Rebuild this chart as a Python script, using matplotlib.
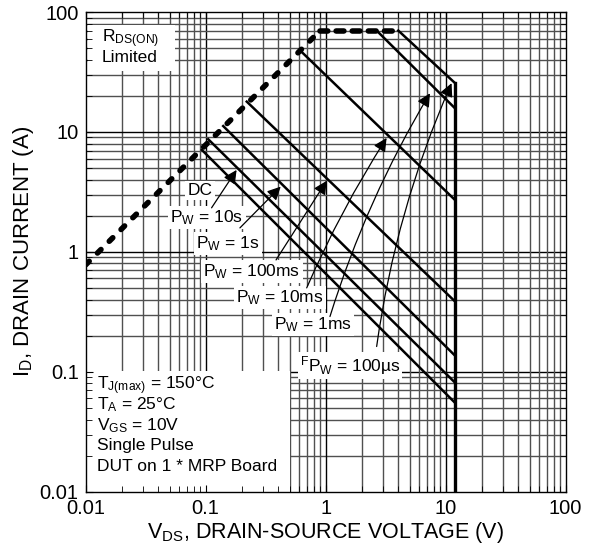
import matplotlib.pyplot as plt
from matplotlib.patches import Rectangle

plt.rcParams['font.family'] = ['Liberation Sans', 'DejaVu Sans']
plt.rcParams['mathtext.fontset'] = 'custom'
plt.rcParams['mathtext.rm'] = 'Liberation Sans'
plt.rcParams['mathtext.it'] = 'Liberation Sans:italic'
plt.rcParams['mathtext.default'] = 'regular'

# RDS(on) limit (dashed)
rds_v = [0.01, 0.9]
rds_i = [0.78, 70]
flat_v = [0.9, 4.0]
flat_i = [70, 70]

# pulse width lines: start on the limit, end at VDS max
pulse_names = ['DC', '10s', '1s', '100ms', '10ms', '1ms', '100\u00b5s']
v_start = [0.093, 0.105, 0.14, 0.22, 0.61, 2.66, 4.03]
i_start = [7.08, 8.7, 11.2, 17.9, 48, 70, 70]
i_end = [0.055, 0.081, 0.136, 0.385, 2.7, 15.7, 25.5]
vds_max = 12

# label centres and arrows (tail -> tip)
label_pos = [(0.0898, 3.24), (0.1025, 1.92), (0.1535, 1.17), (0.243, 0.681),
             (0.416, 0.414), (0.783, 0.246), (1.596, 0.112)]
arrow_tail = [None, (0.112, 2.33), (0.193, 1.585), (0.386, 0.857),
              (0.695, 0.501), (1.086, 0.289), (2.66, 0.1625)]
arrow_tip = [None, (0.181, 4.82), (0.422, 3.50), (1.019, 3.91),
             (3.22, 8.91), (7.40, 21.0), (11.2, 25.5)]
arrow_rad = [0, 0, 0, 0, -0.04, -0.06, -0.07]

fig = plt.figure(figsize=(5.97, 5.44), dpi=100)
ax = fig.add_axes([0.1435, 0.0961, 0.804, 0.8818])
ax.set_xscale('log')
ax.set_yscale('log')
ax.set_xlim(0.01, 100)
ax.set_ylim(0.01, 100)

# grid drawn by hand so white boxes can sit over it but under the ticks
for dec in [0.01, 0.1, 1, 10]:
    for k in range(1, 10):
        val = dec * k
        c = 'black' if k == 1 else '#505050'
        if val > 0.01:
            ax.axvline(val, color=c, lw=1.0, zorder=0.8)
            ax.axhline(val, color=c, lw=1.0, zorder=0.8)

# white boxes
ax.add_patch(Rectangle((0.005, 0.878), 0.181, 0.094, transform=ax.transAxes,
                       facecolor='white', edgecolor='none', zorder=1))
ax.add_patch(Rectangle((0.0, 0.0), 0.4256, 0.252, transform=ax.transAxes,
                       facecolor='white', edgecolor='none', zorder=1))

# RDS(on) limit
ax.plot(rds_v, rds_i, color='black', lw=4.0, linestyle=(0, (0.9, 2.1)),
        dash_capstyle='round', zorder=3)
ax.plot(flat_v, flat_i, color='black', lw=4.0, linestyle=(0, (1.4, 1.5)),
        dash_capstyle='round', zorder=3)

# SOA lines
for vs, i0, i1 in zip(v_start, i_start, i_end):
    ax.plot([vs, vds_max], [i0, i1], color='black', lw=1.8, zorder=3)
ax.plot([vds_max, vds_max], [i_end[-1], 0.01], color='black', lw=2.4, zorder=3)

# labels and arrows
for k, name in enumerate(pulse_names):
    if name == 'DC':
        txt = 'DC'
    elif name == '100\u00b5s':
        txt = '$^{F}$P$_{W}$ = ' + name
    else:
        txt = 'P$_{W}$ = ' + name
    ax.text(label_pos[k][0], label_pos[k][1], txt, fontsize=12.5,
            ha='center', va='center', zorder=1.2,
            bbox=dict(facecolor='white', edgecolor='none', pad=1.5))
    if arrow_tail[k] is not None:
        ax.annotate('', xy=arrow_tip[k], xytext=arrow_tail[k],
                    arrowprops=dict(arrowstyle='-|>', color='black', lw=0.9,
                                    mutation_scale=20, shrinkA=0, shrinkB=0,
                                    connectionstyle='arc3,rad=%s' % arrow_rad[k]),
                    zorder=4)

ax.text(0.033, 0.945, 'R$_{DS(ON)}$', transform=ax.transAxes, fontsize=12.5,
        va='center', zorder=2)
ax.text(0.033, 0.906, 'Limited', transform=ax.transAxes, fontsize=12.5,
        va='center', zorder=2)

notes = ['T$_{J(max)}$ = 150\u00b0C', 'T$_{A}$ = 25\u00b0C', 'V$_{GS}$ = 10V',
         'Single Pulse', 'DUT on 1 * MRP Board']
note_y = [0.222, 0.181, 0.137, 0.0973, 0.0535]
for t, yy in zip(notes, note_y):
    ax.text(0.023, yy, t, transform=ax.transAxes, fontsize=12.5,
            va='center', zorder=2)

ax.set_xticks([0.01, 0.1, 1, 10, 100])
ax.set_xticklabels(['0.01', '0.1', '1', '10', '100'])
ax.set_yticks([0.01, 0.1, 1, 10, 100])
ax.set_yticklabels(['0.01', '0.1', '1', '10', '100'])
ax.tick_params(which='both', direction='in', top=True, right=True,
               labelsize=14.5, color='black')
ax.tick_params(which='major', length=5, pad=5)
ax.tick_params(which='minor', length=4)
for s in ax.spines.values():
    s.set_linewidth(1.0)
    s.set_zorder(5)

ax.set_xlabel('V$_{DS}$, DRAIN-SOURCE VOLTAGE (V)', fontsize=15.5, labelpad=2)
ax.set_ylabel('I$_{D}$, DRAIN CURRENT (A)', fontsize=16, labelpad=3)

fig.savefig('out.png', dpi=100)
